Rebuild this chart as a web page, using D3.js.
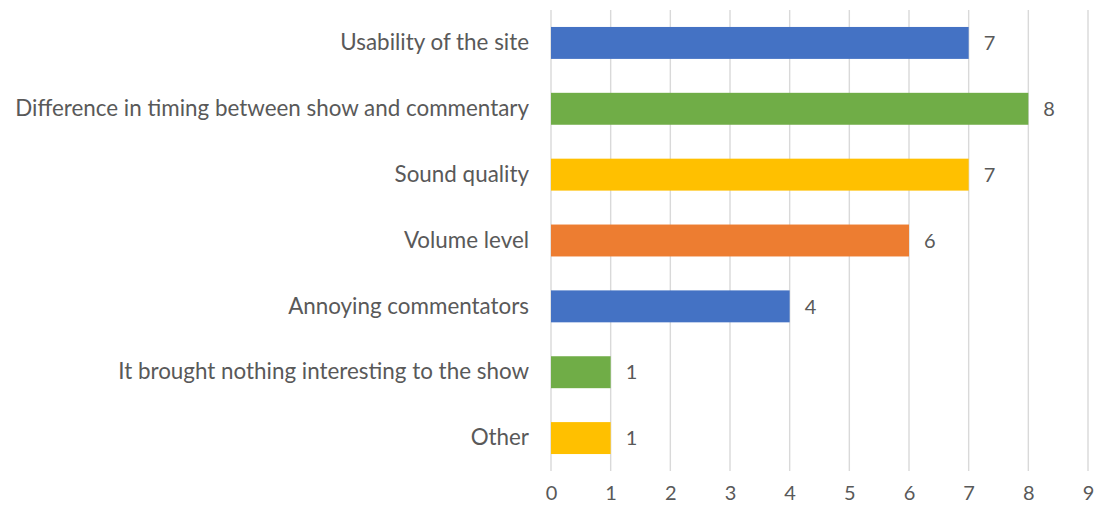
<!DOCTYPE html>
<html>
<head>
<meta charset="utf-8">
<script src="https://cdn.jsdelivr.net/npm/d3@7"></script>
<style>
  html, body { margin: 0; padding: 0; background: #fff; }
  svg text { font-family: Lato, "Open Sans", sans-serif; fill: #595959; }
</style>
</head>
<body>
<svg id="chart" width="1101" height="513"></svg>
<script>
const categories = [
  "Usability of the site",
  "Difference in timing between show and commentary",
  "Sound quality",
  "Volume level",
  "Annoying commentators",
  "It brought nothing interesting to the show",
  "Other"
];
const values = [7, 8, 7, 6, 4, 1, 1];
const barColors = ["#4472C4", "#70AD47", "#FFC000", "#ED7D31", "#4472C4", "#70AD47", "#FFC000"];
const xTicks = [0, 1, 2, 3, 4, 5, 6, 7, 8, 9];

const svg = d3.select("#chart");
const margin = { top: 10, right: 13, bottom: 42, left: 551 };
const W = 1101, H = 513;

const x = d3.scaleLinear().domain([0, 9]).range([margin.left, W - margin.right]);
const y = d3.scaleBand().domain(categories).range([margin.top, H - margin.bottom]).paddingInner(0.515).paddingOuter(0.2575);

// vertical gridlines
svg.append("g").selectAll("line").data(xTicks).join("line")
  .attr("x1", d => x(d)).attr("x2", d => x(d))
  .attr("y1", margin.top).attr("y2", H - margin.bottom)
  .attr("stroke", "#d9d9d9").attr("stroke-width", 1.4);

// x tick labels
const xAxis = d3.axisBottom(x).tickValues(xTicks).tickSize(0).tickPadding(0);
const gx = svg.append("g").attr("transform", `translate(0,${H - margin.bottom})`).call(xAxis);
gx.select(".domain").remove();
gx.selectAll("text").attr("dy", "1.45em").style("font-size", "20px").attr("fill", "#595959");

// category labels
const yAxis = d3.axisLeft(y).tickSize(0).tickPadding(22);
const gy = svg.append("g").attr("transform", `translate(${margin.left},0)`).call(yAxis);
gy.select(".domain").remove();
gy.selectAll("text").style("font-size", "22.4px").attr("fill", "#595959");

// bars
svg.append("g").selectAll("rect").data(categories).join("rect")
  .attr("x", x(0))
  .attr("y", d => y(d))
  .attr("width", (d, i) => x(values[i]) - x(0))
  .attr("height", y.bandwidth())
  .attr("fill", (d, i) => barColors[i]);

// value labels
svg.append("g").selectAll("text").data(categories).join("text")
  .attr("x", (d, i) => x(values[i]) + 15)
  .attr("y", d => y(d) + y.bandwidth() / 2)
  .attr("dy", "0.36em")
  .style("font-size", "20px")
  .text((d, i) => values[i]);
</script>
</body>
</html>
